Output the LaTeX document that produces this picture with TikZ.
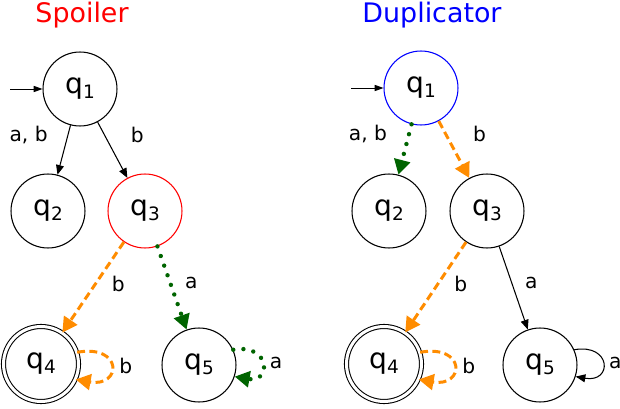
\documentclass[tikz,border=0pt]{standalone}
\usepackage{fontspec}
\setmainfont{DejaVu Sans}
\usetikzlibrary{arrows.meta}
\definecolor{moveorange}{RGB}{255,140,0}
\definecolor{movegreen}{RGB}{0,100,0}
\newcommand{\qs}[1]{q\raisebox{-2.8pt}{\fontsize{10.5}{12}\selectfont #1}}
\tikzset{
  state/.style={circle, draw, line width=0.6pt, minimum size=1.48cm, inner sep=0pt,
    font=\fontsize{16}{18}\selectfont},
  final/.style={state, double, double distance=1.7pt, minimum size=1.5cm},
  title/.style={anchor=base, font=\fontsize{15.3}{18}\selectfont},
  lbl/.style={inner sep=1pt, font=\fontsize{11.5}{13}\selectfont},
  initarrow/.style={line width=0.5pt, -{Triangle[length=5pt,width=3.5pt]}},
  move/.style={line width=0.6pt, -{Triangle[length=5.5pt,width=4.5pt]}},
  orangemove/.style={moveorange, line width=1.7pt, dash pattern=on 4.5pt off 2.5pt,
    -{Triangle[length=8.5pt,width=9pt]}},
  greenmove/.style={movegreen, line width=2.5pt, line cap=round, dash pattern=on 0pt off 5.8pt,
    -{Triangle[length=8.5pt,width=9pt]}},
}
\begin{document}
\begin{tikzpicture}[x=0.02cm, y=-0.02cm]
  \useasboundingbox (0,0) rectangle (620,409);
  % Spoiler
  \node[title, red] (spoiler) at (82,23) {Spoiler};
  \node[state] (s1) at (80,89) {\qs{1}};
  \node[state] (s2) at (48,211) {\qs{2}};
  \node[state, draw=red] (s3) at (145,211) {\qs{3}};
  \node[final] (s4) at (41,364) {\qs{4}};
  \node[state] (s5) at (199,365) {\qs{5}};
  \coordinate (s0) at (10,89);
  \draw[initarrow] (s0) -- (s1);
  \draw[move] (s1) -- node[lbl, pos=0.2, left=0.36cm] {a, b} (s2);
  \draw[move] (s1) -- node[lbl, pos=0.23, right=0.48cm] {b} (s3);
  \draw[orangemove] (s3) -- node[lbl, pos=0.46, right=0.26cm, black] {b} (s4);
  \draw[greenmove] (s3) -- node[lbl, pos=0.44, right=0.22cm, black] {a} (s5);
  \draw[orangemove] (s4.18) to[out=10, in=-10, looseness=4.4] node[lbl, right=0.1cm, black] {b} (s4.-24);
  \draw[greenmove] (s5.24) to[out=10, in=-10, looseness=3.6] node[lbl, right=0.08cm, black] {a} (s5.-18);
  % Duplicator
  \node[title, blue] (duplicator) at (432,23) {Duplicator};
  \node[state, draw=blue] (d1) at (421,88) {\qs{1}};
  \node[state] (d2) at (389,211) {\qs{2}};
  \node[state] (d3) at (487,211) {\qs{3}};
  \node[final] (d4) at (384,364) {\qs{4}};
  \node[state] (d5) at (540,365) {\qs{5}};
  \coordinate (d0) at (351,88);
  \draw[initarrow] (d0) -- (d1);
  \draw[greenmove] (d1) -- node[lbl, pos=0.2, left=0.36cm, black] {a, b} (d2);
  \draw[orangemove] (d1) -- node[lbl, pos=0.23, right=0.48cm, black] {b} (d3);
  \draw[orangemove] (d3) -- node[lbl, pos=0.46, right=0.26cm, black] {b} (d4);
  \draw[move] (d3) -- node[lbl, pos=0.44, right=0.22cm] {a} (d5);
  \draw[orangemove] (d4.18) to[out=10, in=-10, looseness=4.4] node[lbl, right=0.1cm, black] {b} (d4.-24);
  \draw[move] (d5.24) to[out=10, in=-10, looseness=3.6] node[lbl, right=0.08cm] {a} (d5.-18);
\end{tikzpicture}
\end{document}
